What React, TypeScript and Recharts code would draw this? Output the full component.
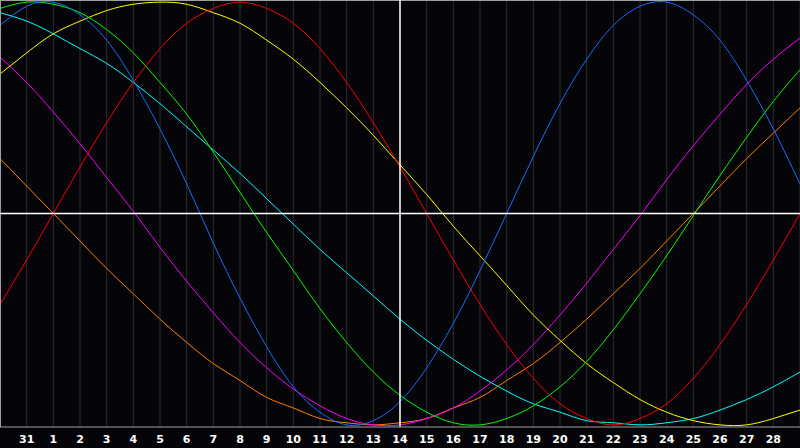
import React from "react"
import { LineChart, Line, XAxis, YAxis, CartesianGrid, ReferenceLine } from "recharts"

// day labels, index 0 = "30" … index 30 = "29"; the thick white line marks today (14)
const dayLabels = [
  "30", "31", "1", "2", "3", "4", "5", "6", "7", "8", "9", "10", "11", "12", "13", "14",
  "15", "16", "17", "18", "19", "20", "21", "22", "23", "24", "25", "26", "27", "28", "29",
]

const physical = [
  89, 98, 100, 94, 82, 63, 40, 14, -14, -40, -63, -82, -94, -100, -98, -89,
  -73, -52, -27, 0, 27, 52, 73, 89, 98, 100, 94, 82, 63, 40, 14,
]
const emotional = [
  -43, -22, 0, 22, 43, 62, 78, 90, 97, 100, 97, 90, 78, 62, 43, 22,
  0, -22, -43, -62, -78, -90, -97, -100, -97, -90, -78, -62, -43, -22, 0,
]
const intellectual = [
  97, 100, 99, 95, 87, 76, 62, 47, 29, 10, -9, -27, -45, -61, -75, -86,
  -94, -99, -100, -97, -91, -82, -70, -55, -38, -20, -1, 18, 36, 53, 68,
]
const intuitive = [
  74, 62, 48, 33, 17, 1, -16, -32, -47, -61, -73, -83, -91, -97, -100, -100,
  -97, -92, -84, -74, -62, -48, -33, -17, -1, 16, 32, 47, 61, 73, 83,
]
const aesthetic = [
  66, 76, 85, 91, 96, 99, 100, 99, 95, 90, 82, 73, 62, 50, 37, 23,
  9, -6, -20, -34, -48, -60, -71, -80, -88, -94, -98, -100, -100, -97, -93,
]
const awareness = [
  26, 13, 0, -13, -26, -38, -50, -61, -71, -79, -87, -92, -97, -99, -100, -99,
  -97, -92, -87, -79, -71, -61, -50, -38, -26, -13, 0, 13, 26, 38, 50,
]
const spiritual = [
  95, 91, 85, 78, 71, 62, 52, 41, 30, 19, 7, -5, -17, -28, -39, -50,
  -60, -69, -77, -84, -90, -94, -98, -99, -100, -99, -97, -93, -88, -82, -75,
]

const TODAY = 15

const data = dayLabels.map((label, i) => ({
  k: i,
  label,
  physical: physical[i],
  emotional: emotional[i],
  intellectual: intellectual[i],
  intuitive: intuitive[i],
  aesthetic: aesthetic[i],
  awareness: awareness[i],
  spiritual: spiritual[i],
}))

const series = [
  { key: "awareness", color: "#ff7f00" },
  { key: "intuitive", color: "#ff00ff" },
  { key: "spiritual", color: "#00ffff" },
  { key: "aesthetic", color: "#ffff00" },
  { key: "intellectual", color: "#00ff00" },
  { key: "emotional", color: "#ff0000" },
  { key: "physical", color: "#1a6cff" },
]

const ticks = data.slice(1, 30).map((d) => d.k)

export default function App() {
  return (
    <div style={{ position: "absolute", left: 0, top: 0, width: 800, height: 448, background: "#050408" }}>
      <style>{"body{margin:0;background:#050408}"}</style>
      <LineChart width={800} height={448} data={data} margin={{ top: 0, right: 0, bottom: 0, left: 0 }}>
        <CartesianGrid horizontal={false} stroke="#2e2e31" />
        <XAxis
          dataKey="k"
          type="number"
          domain={[0, 30]}
          ticks={ticks}
          interval={0}
          height={21}
          tickLine={false}
          axisLine={{ stroke: "#a0a0a0" }}
          tickFormatter={(v: number) => dayLabels[v]}
          tick={{ fill: "#ffffff", fontSize: 11, fontWeight: "bold", fontFamily: "DejaVu Sans" }}
        />
        <YAxis hide width={0} domain={[-101, 101]} />
        {series.map((s) => (
          <Line
            key={s.key}
            dataKey={s.key}
            type="natural"
            stroke={s.color}
            strokeWidth={1}
            dot={false}
            activeDot={false}
            isAnimationActive={false}
          />
        ))}
        <ReferenceLine x={0} stroke="#a0a0a0" strokeWidth={2} />
        <ReferenceLine y={101} stroke="#a0a0a0" strokeWidth={2} />
        <ReferenceLine x={TODAY} stroke="#ffffff" strokeWidth={1.5} />
        <ReferenceLine y={0} stroke="#ffffff" strokeWidth={1.5} />
      </LineChart>
    </div>
  )
}
